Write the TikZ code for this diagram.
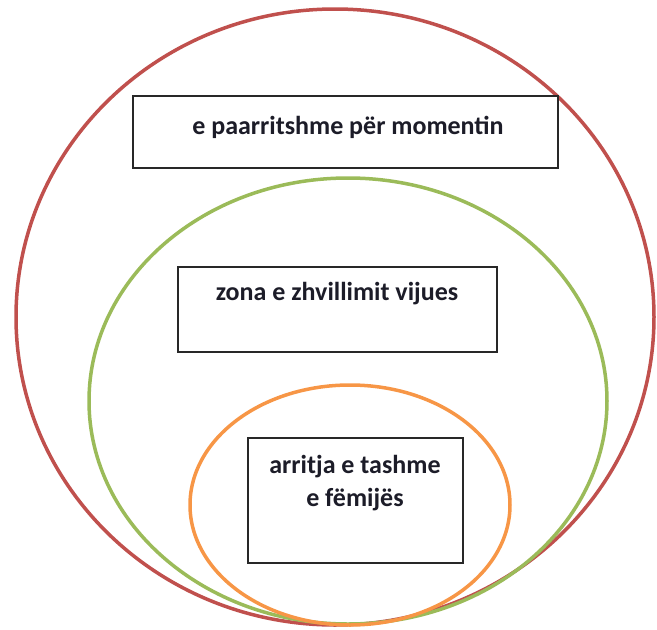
\documentclass[tikz,border=0pt]{standalone}
\usepackage{fontspec}
\setmainfont{Carlito}
\definecolor{ringred}{RGB}{192,80,77}
\definecolor{ringgreen}{RGB}{155,187,89}
\definecolor{ringorange}{RGB}{247,150,70}
\definecolor{boxline}{RGB}{40,40,40}
\definecolor{inktext}{RGB}{28,28,40}
\begin{document}
\begin{tikzpicture}[x=1pt,y=-1pt,
  ring/.style={line width=3.5pt},
  zonebox/.style={draw=boxline, line width=1.6pt, fill=white},
  zonetext/.style={font=\bfseries\fontsize{26}{33}\selectfont, text=inktext, anchor=base, align=center, inner sep=0pt}]
  \useasboundingbox (0,0) rectangle (657,630);
  % nested zones
  \draw[ring, draw=ringred]    (335,317) ellipse [x radius=319pt, y radius=308pt];
  \draw[ring, draw=ringgreen]  (348,401) ellipse [x radius=259pt, y radius=223pt];
  \draw[ring, draw=ringorange] (350,505) ellipse [x radius=160pt, y radius=120pt];
  % label boxes
  \path[zonebox] (133,96)  rectangle (558,168) coordinate (b1);
  \path[zonebox] (178,267) rectangle (497,352) coordinate (b2);
  \path[zonebox] (248,438) rectangle (463,563) coordinate (b3);
  % the base anchor of a two-line node sits on its last line
  \node[zonetext] (t1) at (348,134) {e paarritshme për momentin};
  \node[zonetext] (t2) at (337,300) {zona e zhvillimit vijues};
  \node[zonetext] (t3) at (355,506) {arritja e tashme\\e fëmijës};
\end{tikzpicture}
\end{document}
